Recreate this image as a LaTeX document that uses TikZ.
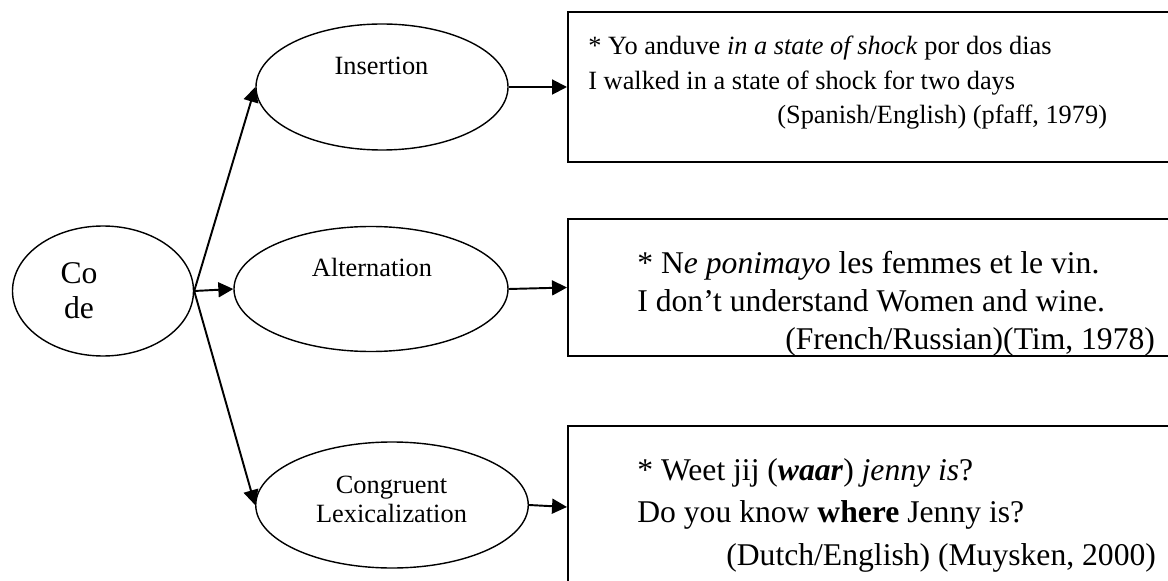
\documentclass[tikz,border=0pt]{standalone}
\usepackage{fontspec}
\setmainfont{Liberation Serif}
\usetikzlibrary{shapes.geometric,arrows.meta}

\begin{document}
\begin{tikzpicture}[oval/.style={ellipse, draw=black, thick, inner sep=0pt},
		exbox/.style={rectangle, draw=black, line width=1pt, anchor=west, minimum width=12.66cm},
		small/.style={font=\fontsize{15}{16.5}\selectfont, align=center},
		big/.style={font=\fontsize{18}{20}\selectfont, align=center},
		extext/.style={anchor=north west, align=left, inner sep=0pt},
		link/.style={draw=black, line width=1.1pt, -{Triangle[length=8.5pt, width=8.5pt]}}]
				\useasboundingbox (0,0) rectangle (23.36,11.6);
				\clip (0,0) rectangle (23.36,11.6);
				
				\node[oval, minimum width=3.62cm, minimum height=2.6cm] (code) at (2.06,5.78){};
				\node[oval, minimum width=5.04cm, minimum height=2.52cm] (ins) at (7.64,9.86){};
				\node[oval, minimum width=5.48cm, minimum height=2.5cm] (alt) at (7.42,5.82){};
				\node[oval, minimum width=5.45cm, minimum height=2.52cm] (con) at (7.84,1.5){};
				
				\node[big] (codetxt) at (1.58,5.79){Co\\de};
				\node[small] (instxt) at (7.63,10.28){Insertion};
				\node[small] (alttxt) at (7.44,6.26){Alternation};
				\node[small] (contxt) at (7.83,1.62){Congruent\\Lexicalization};
				
				\node[exbox, minimum height=3cm] (ex1) at (11.34,9.86){};
				\node[exbox, minimum height=2.74cm] (ex2) at (11.34,5.85){};
				\node[exbox, minimum height=3.24cm] (ex3) at (11.34,1.46){};
				
				\node[extext, font=\fontsize{15}{19.6}\selectfont] (ex1txt) at (11.76,10.88){* Yo anduve \textit{in a state of shock} por dos dias\\I walked in a state of shock for two days\\\hspace*{3.78cm}(Spanish/English) (pfaff, 1979)};
				\node[extext, font=\fontsize{18}{21.5}\selectfont] (ex2txt) at (12.74,6.58){* N\textit{e ponimayo} les femmes et le vin.\\I don’t understand Women and wine.\\\hspace*{2.96cm}(French/Russian)(Tim, 1978)};
				\node[extext, font=\fontsize{18}{24.2}\selectfont] (ex3txt) at (12.74,2.44){* Weet jij (\textbf{\textit{waar}}) \textit{jenny is}?\\Do you know \textbf{where} Jenny is?\\\hspace*{1.78cm}(Dutch/English) (Muysken, 2000)};
				
				\path[link] (code.east) -- (ins.west);
				\path[link] (code.east) -- (alt.west);
				\path[link] (code.east) -- (con.west);
				\path[link] (ins.east) -- (ex1.west);
				\path[link] (alt.east) -- (ex2.west);
				\path[link] (con.east) -- (ex3.west);
				\end{tikzpicture}
\end{document}
